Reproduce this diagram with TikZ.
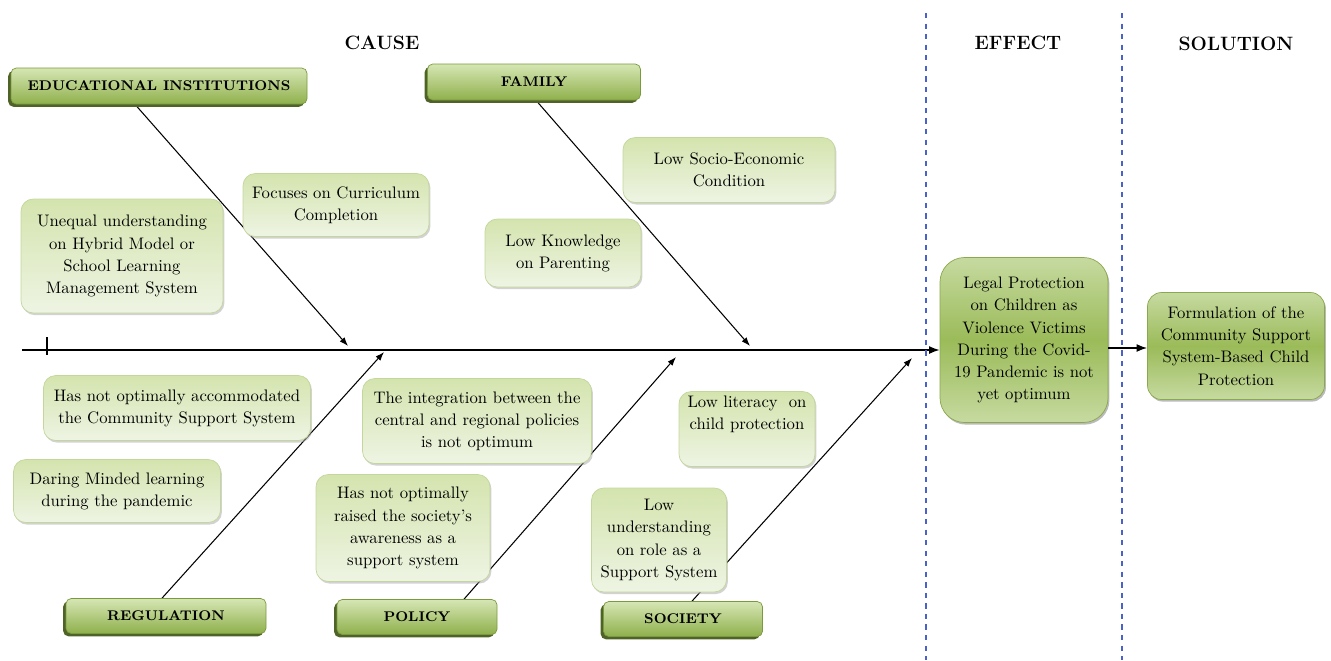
\documentclass[tikz,border=0pt]{standalone}
\usepackage{tikz}
\usetikzlibrary{positioning}
\usetikzlibrary{arrows.meta}
\usetikzlibrary{shadows}
\usetikzlibrary{calc}
\pgfdeclarelayer{background}
\pgfsetlayers{background,main}
\definecolor{hdrtop}{HTML}{D6E6B4}
\definecolor{hdrbot}{HTML}{8FB04C}
\definecolor{hdrline}{HTML}{7A9A3E}
\definecolor{hdrshade}{HTML}{4F6228}
\definecolor{itemtop}{HTML}{D4E4AE}
\definecolor{itembot}{HTML}{EEF4E3}
\definecolor{itemline}{HTML}{C3D69B}
\definecolor{resedge}{HTML}{C6DAA0}
\definecolor{resmid}{HTML}{9BBB59}
\definecolor{resline}{HTML}{8AA84C}
\definecolor{divblue}{HTML}{4A62C8}
\newcommand{\itemfont}{\fontsize{9.5}{12.6}\selectfont}

\begin{document}
\begin{tikzpicture}[x=0.02cm,y=-0.02cm,
    dims/.style 2 args={minimum width=#1*0.02cm, minimum height=#2*0.02cm},
    cause/.style={draw=hdrline, rounded corners=3pt, top color=hdrtop, bottom color=hdrbot,
                  drop shadow={shadow xshift=-1.6pt, shadow yshift=-1.6pt, fill=hdrshade, opacity=1},
                  font=\bfseries\fontsize{8}{11}\selectfont, inner sep=0pt},
    factor/.style={draw=itemline, rounded corners=7pt, top color=itemtop, bottom color=itembot,
                   drop shadow={shadow xshift=0.8pt, shadow yshift=-1.2pt, fill=black!35, opacity=0.5},
                   font=\itemfont, align=center, inner sep=0pt},
    result/.style={draw=resline, top color=resedge, bottom color=resedge, middle color=resmid,
                   drop shadow={shadow xshift=0.8pt, shadow yshift=-1.2pt, fill=black!45, opacity=0.6},
                   font=\itemfont, align=center, inner sep=0pt},
    title/.style={font=\bfseries\fontsize{11}{14}\selectfont},
    bone/.style={-{Latex[length=5pt,width=3.6pt]}, line width=0.6pt},
    divider/.style={dashed, draw=divblue, line width=0.7pt}]
    \useasboundingbox (0,0) rectangle (1331,660);
    % column titles
    \node at (382,43)  [title] (tcause)  {CAUSE};
    \node at (1018,43) [title] (teffect) {EFFECT};
    \node at (1236,44) [title] (tsolut)  {SOLUTION};
    % dividers between the columns
    \coordinate (dv1a) at (926,13);  \coordinate (dv1b) at (926,660);
    \coordinate (dv2a) at (1122,13); \coordinate (dv2b) at (1122,660);
    \draw [divider] (dv1a) -- (dv1b);
    \draw [divider] (dv2a) -- (dv2b);
    % main cause categories
    \node at (159,86)  [cause,dims={296}{36}] (nedu)    {EDUCATIONAL INSTITUTIONS};
    \node at (534,82)  [cause,dims={213}{36}] (nfamily) {FAMILY};
    \node at (166,616) [cause,dims={200}{35}] (nregul)  {REGULATION};
    \node at (417,617) [cause,dims={160}{35}] (npolicy) {POLICY};
    \node at (683,619) [cause,dims={159}{35}] (nsociet) {SOCIETY};
    % upper causes
    \node at (336,205) [factor,dims={186}{63}]  (nfocus)  {Focuses on Curriculum\\Completion};
    \node at (122,256) [factor,dims={202}{114}] (nunequ)  {Unequal understanding\\on Hybrid Model or\\School Learning\\Management System};
    \node at (729,170) [factor,dims={212}{65}]  (nsocio)  {Low Socio-Economic\\Condition};
    \node at (563,253) [factor,dims={156}{68}]  (nknow)   {Low Knowledge\\on Parenting};
    % lower causes
    \node at (177,408) [factor,dims={267}{65}]  (naccom)  {Has not optimally accommodated\\the Community Support System};
    \node at (117,491) [factor,dims={207}{63}]  (ndaring) {Daring Minded learning\\during the pandemic};
    \node at (477,421) [factor,dims={229}{85}]  (ninteg)  {The integration between the\\central and regional policies\\is not optimum};
    \node at (403,528) [factor,dims={174}{107}] (nraise)  {Has not optimally\\raised the society's\\awareness as a\\support system};
    \node at (747,429) [factor,dims={136}{75}]  (nliter)  {Low literacy~ on\\child protection\\[6pt]};
    \node at (659,540) [factor,dims={135}{104}] (nunder)  {Low\\understanding\\on role as a\\Support System};
    % effect and solution
    \node at (1024,340) [result,rounded corners=14pt,dims={168}{165}] (neffect) {Legal Protection\\on Children as\\Violence Victims\\During the Covid-\\19 Pandemic is not\\yet optimum};
    \node at (1236,346) [result,rounded corners=8pt,dims={177}{107}]  (nsolut)  {Formulation of the\\Community Support\\System-Based Child\\Protection};
    % spine and bones
    \coordinate (ntail) at (22,350);
    \coordinate (ntick1) at (47,337); \coordinate (ntick2) at (47,355);
    \coordinate (jedu) at (348,346);  \coordinate (jfam) at (750,346);
    \coordinate (jreg) at (384,352);  \coordinate (jpol) at (676,357);
    \coordinate (jsoc) at (912,358);
    \begin{pgfonlayer}{background}
        \draw [line width=0.8pt,-{Latex[length=6pt,width=4.5pt]}] (ntail) -- (ntail -| neffect.west);
        \draw [line width=0.6pt] (ntick1) -- (ntick2);
        \draw [bone] ($(nedu.south)+(-24,0)$)    -- (jedu);
        \draw [bone] ($(nfamily.south)+(2,0)$)   -- (jfam);
        \draw [bone] ($(nregul.north)+(-4,0)$)   -- (jreg);
        \draw [bone] ($(npolicy.north)+(47,0)$)  -- (jpol);
        \draw [bone] ($(nsociet.north)+(9,0)$)   -- (jsoc);
    \end{pgfonlayer}
    \draw [line width=0.8pt,-{Latex[length=6pt,width=4.5pt]}] (neffect.east |- 0,348) -- (nsolut.west |- 0,348);
\end{tikzpicture}
\end{document}
